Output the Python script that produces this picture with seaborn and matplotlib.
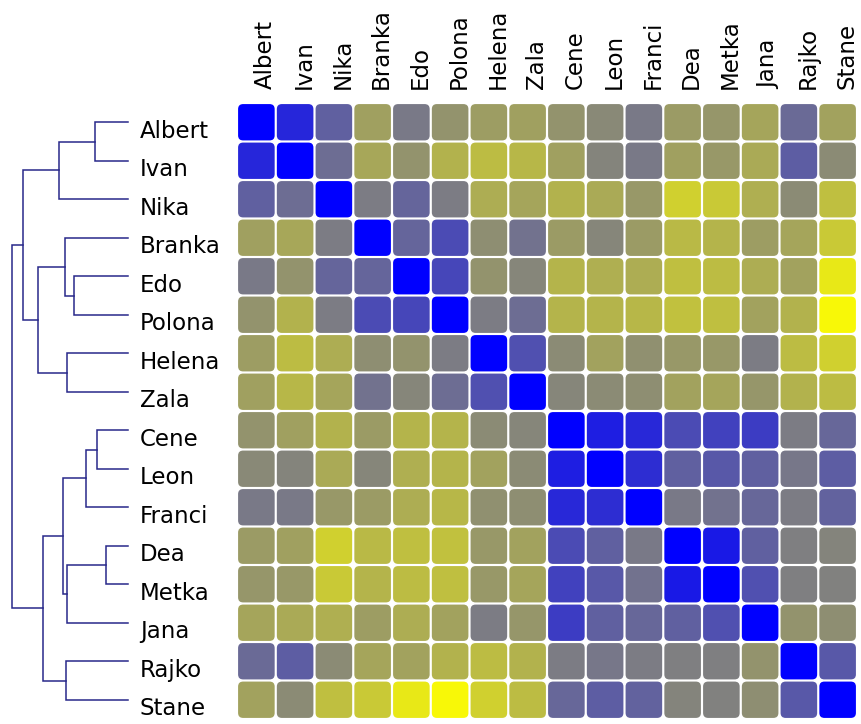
import numpy as np
import pandas as pd
import seaborn as sns
import matplotlib.pyplot as plt
from matplotlib.colors import LinearSegmentedColormap
from matplotlib.patches import FancyBboxPatch
from matplotlib.transforms import ScaledTranslation

names = ['Albert', 'Ivan', 'Nika', 'Branka', 'Edo', 'Polona', 'Helena', 'Zala',
         'Cene', 'Leon', 'Franci', 'Dea', 'Metka', 'Jana', 'Rajko', 'Stane']

# upper triangle of the distance matrix (row i, columns i+1 .. 15)
upper = [
    [.15, .38, .63, .48, .58, .62, .63, .58, .54, .48, .61, .59, .65, .42, .64],
    [.43, .66, .58, .70, .74, .72, .63, .52, .48, .63, .60, .67, .37, .55],
    [.49, .40, .49, .68, .65, .70, .67, .60, .82, .79, .69, .55, .75],
    [.40, .30, .56, .45, .61, .53, .61, .73, .71, .62, .65, .79],
    [.28, .58, .53, .71, .69, .68, .75, .74, .68, .64, .91],
    [.49, .43, .71, .71, .72, .76, .75, .64, .70, .97],
    [.32, .55, .64, .57, .60, .60, .49, .74, .82],
    [.53, .55, .56, .64, .65, .59, .70, .74],
    [.12, .16, .30, .26, .24, .49, .41],
    [.18, .38, .35, .38, .47, .37],
    [.48, .45, .41, .49, .39],
    [.10, .38, .50, .52],
    [.32, .50, .51],
    [.58, .56],
    [.35],
]

# merges (cluster a, cluster b, height); new clusters get ids 16, 17, ...
linkage = [
    (11, 12, 22), (8, 9, 31), (0, 1, 33), (17, 10, 42), (4, 5, 54),
    (6, 7, 61), (16, 13, 61), (14, 15, 62), (3, 20, 63), (19, 22, 65),
    (18, 2, 69), (25, 23, 85), (24, 21, 90), (26, 28, 105), (29, 27, 116),
]

n = len(names)
dist = np.zeros((n, n))
for i, row in enumerate(upper):
    for k, v in enumerate(row):
        dist[i, i + 1 + k] = v
        dist[i + 1 + k, i] = v
df = pd.DataFrame(dist, index=names, columns=names)

W, H = 861, 724
fig = plt.figure(figsize=(W / 100, H / 100), dpi=100)
fig.patch.set_facecolor('white')

cmap = LinearSegmentedColormap.from_list('bgy', ['#0000ff', '#7e7e82', '#ffff00'])

ax = fig.add_axes([237 / W, (H - 719) / H, 620 / W, 616 / H])
sns.heatmap(df, cmap=cmap, vmin=0, vmax=1, cbar=False, ax=ax,
            xticklabels=True, yticklabels=True)

# replace square mesh with rounded cells in the same colours
mesh = ax.collections[0]
rgba = mesh.to_rgba(np.asarray(mesh.get_array()).reshape(n, n))
mesh.set_visible(False)
gap = 0.028
for i in range(n):
    for j in range(n):
        ax.add_patch(FancyBboxPatch((j + gap, i + gap), 1 - 2 * gap, 1 - 2 * gap,
                                    boxstyle='round,pad=0,rounding_size=0.13',
                                    facecolor=rgba[i, j], edgecolor='none'))

ax.xaxis.tick_top()
ax.tick_params(axis='x', length=0, pad=10, labelsize=16.5, rotation=90)
ax.tick_params(axis='y', length=0, pad=70, labelsize=16.5, rotation=0)
# labels sit a little off the cell centres in the original
xshift = ScaledTranslation(9 / 100, 0, fig.dpi_scale_trans)
yshift = ScaledTranslation(0, -9 / 100, fig.dpi_scale_trans)
for t in ax.get_xticklabels():
    t.set_transform(t.get_transform() + xshift)
for t in ax.get_yticklabels():
    t.set_horizontalalignment('left')
    t.set_transform(t.get_transform() + yshift)
for s in ax.spines.values():
    s.set_visible(False)
ax.set_xlabel('')
ax.set_ylabel('')

# dendrogram on the left
dax = fig.add_axes([10 / W, (H - 719) / H, 118 / W, 616 / H])
pos = {i: (i + 0.5, 0.0) for i in range(n)}
line_col = '#28288a'
for k, (a, b, h) in enumerate(linkage):
    ya, ha = pos[a]
    yb, hb = pos[b]
    dax.plot([ha, h, h, hb], [ya, ya, yb, yb], color=line_col, lw=1.1,
             solid_joinstyle='miter', clip_on=False)
    pos[n + k] = ((ya + yb) / 2, h)
dax.set_xlim(118, 0)
dax.set_ylim(n, 0)
dax.axis('off')

fig.savefig('out.png', dpi=100)
